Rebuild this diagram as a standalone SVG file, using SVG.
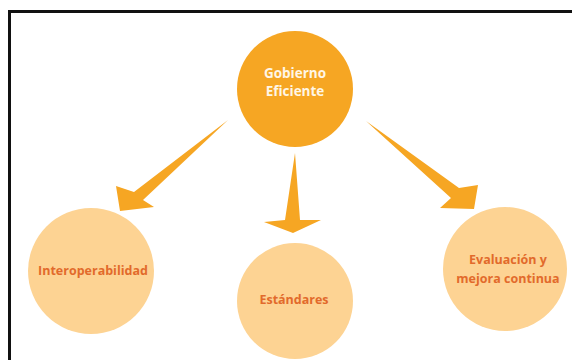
<svg xmlns="http://www.w3.org/2000/svg" width="572" height="360" viewBox="0 0 572 360">
  <style>
    .main { fill: #f6a623; }
    .sub { fill: #fdd393; }
    .arrow { fill: #f6a623; }
    .t-main { font-family: "Open Sans", "DejaVu Sans", sans-serif; font-weight: 700; font-size: 13.5px; fill: #fff6e6; text-anchor: middle; }
    .t-sub { font-family: "Open Sans", "DejaVu Sans", sans-serif; font-weight: 700; font-size: 12.5px; fill: #e26a2b; text-anchor: middle; }
    .frame { stroke: #111; stroke-width: 3; fill: none; }
  </style>
  <rect width="572" height="360" fill="#ffffff"/>
  <path class="frame" d="M9.5 360 V11.5 H572"/>
  <g id="connectors">
    <polygon class="arrow" points="228,120 143,200 154,207 120,211 116,186 134,192"/>
    <polygon class="arrow" points="295,153 300,220 321,220 293,233 264,222 285,220"/>
    <polygon class="arrow" points="366,121 459,188 478,185 474,209 440,208 451,198"/>
  </g>
  <g id="node-gobierno">
    <circle class="main" cx="295" cy="89" r="58"/>
    <text class="t-main" x="295" y="78">Gobierno</text>
    <text class="t-main" x="295" y="96">Eficiente</text>
  </g>
  <g id="node-interoperabilidad">
    <circle class="sub" cx="91" cy="271" r="63"/>
    <text class="t-sub" x="93" y="275">Interoperabilidad</text>
  </g>
  <g id="node-estandares">
    <circle class="sub" cx="295" cy="301" r="58"/>
    <text class="t-sub" x="294" y="304">Estándares</text>
  </g>
  <g id="node-evaluacion">
    <circle class="sub" cx="505" cy="269" r="62"/>
    <text class="t-sub" x="508" y="264">Evaluación y</text>
    <text class="t-sub" x="508" y="283">mejora continua</text>
  </g>
</svg>
